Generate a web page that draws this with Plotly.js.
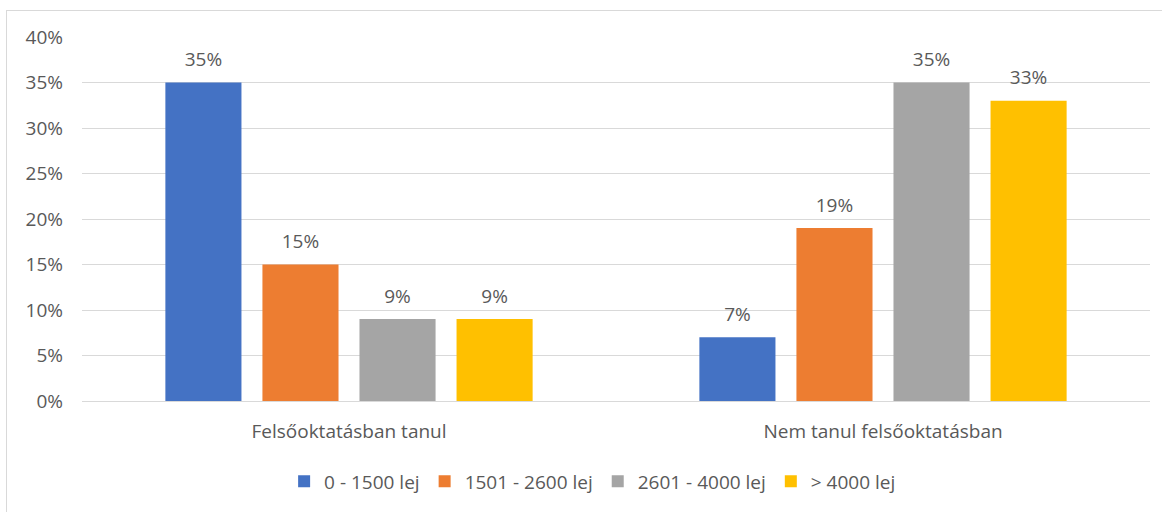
<!DOCTYPE html>
<html>
<head>
<meta charset="utf-8">
<script src="https://cdn.plot.ly/plotly-3.0.1.min.js"></script>
<style>
  html, body { margin: 0; padding: 0; background: #ffffff; }
  #frame {
    position: absolute; left: 6px; top: 10px; width: 1156px; height: 502px;
    border-left: 1px solid #d9d9d9; border-top: 1px solid #d9d9d9;
  }
  #chart { position: absolute; left: 0; top: 0; width: 1162px; height: 512px; }
</style>
</head>
<body>
<div id="frame"></div>
<div id="chart"></div>
<script>
// Income brackets by study status
const categories = ['Felsőoktatásban tanul', 'Nem tanul felsőoktatásban'];
const seriesNames = ['0 - 1500 lej', '1501 - 2600 lej', '2601 - 4000 lej', '> 4000 lej'];
const income0to1500 = [0.35, 0.07];
const income1501to2600 = [0.15, 0.19];
const income2601to4000 = [0.09, 0.35];
const incomeOver4000 = [0.09, 0.33];
const yTicks = [0, 0.05, 0.10, 0.15, 0.20, 0.25, 0.30, 0.35, 0.40];

const seriesValues = [income0to1500, income1501to2600, income2601to4000, incomeOver4000];
const colors = ['#4472C4', '#ED7D31', '#A5A5A5', '#FFC000'];
const fontFamily = 'Open Sans, sans-serif';
const fontSize = 19;
const textColor = '#595959';

const traces = [];
seriesValues.forEach((vals, i) => {
  traces.push({
    type: 'bar',
    name: seriesNames[i],
    x: categories,
    y: vals,
    offsetgroup: 'g' + i,
    marker: { color: colors[i] },
    hoverinfo: 'skip'
  });
});
// value labels, grouped like the bars (invisible markers set the text offset)
seriesValues.forEach((vals, i) => {
  traces.push({
    type: 'scatter',
    mode: 'markers+text',
    x: categories,
    y: vals,
    text: vals.map(v => Math.round(v * 100) + '%'),
    textposition: 'top center',
    textfont: { family: fontFamily, size: fontSize, color: textColor },
    marker: { size: 17, opacity: 0, color: colors[i] },
    offsetgroup: 'g' + i,
    showlegend: false,
    hoverinfo: 'skip',
    cliponaxis: false
  });
});

const layout = {
  width: 1162,
  height: 512,
  margin: { l: 82, r: 12, t: 37, b: 111 },
  paper_bgcolor: 'rgba(0,0,0,0)',
  plot_bgcolor: 'rgba(0,0,0,0)',
  barmode: 'group',
  bargap: 0.273,
  bargroupgap: 0.216,
  scattermode: 'group',
  scattergap: 0.273,
  font: { family: fontFamily, size: fontSize, color: textColor },
  showlegend: true,
  legend: {
    orientation: 'h',
    x: 0.51, xanchor: 'center', xref: 'container',
    y: 0.06, yanchor: 'middle', yref: 'container',
    font: { family: fontFamily, size: fontSize, color: textColor },
    itemwidth: 30,
    traceorder: 'normal'
  },
  xaxis: {
    type: 'category',
    showgrid: false,
    showline: true,
    linecolor: '#d9d9d9',
    linewidth: 1,
    ticks: '',
    ticklabelstandoff: 13,
    tickfont: { family: fontFamily, size: fontSize, color: textColor },
    fixedrange: true
  },
  yaxis: {
    range: [0, 0.4],
    tickvals: yTicks,
    tickformat: '.0%',
    showgrid: true,
    gridcolor: '#d9d9d9',
    gridwidth: 1,
    zeroline: true,
    zerolinecolor: '#d9d9d9',
    showline: false,
    ticks: '',
    ticklabelstandoff: 18,
    tickfont: { family: fontFamily, size: fontSize, color: textColor },
    fixedrange: true
  }
};

Plotly.newPlot('chart', traces, layout, { displayModeBar: false, staticPlot: true });
</script>
</body>
</html>
